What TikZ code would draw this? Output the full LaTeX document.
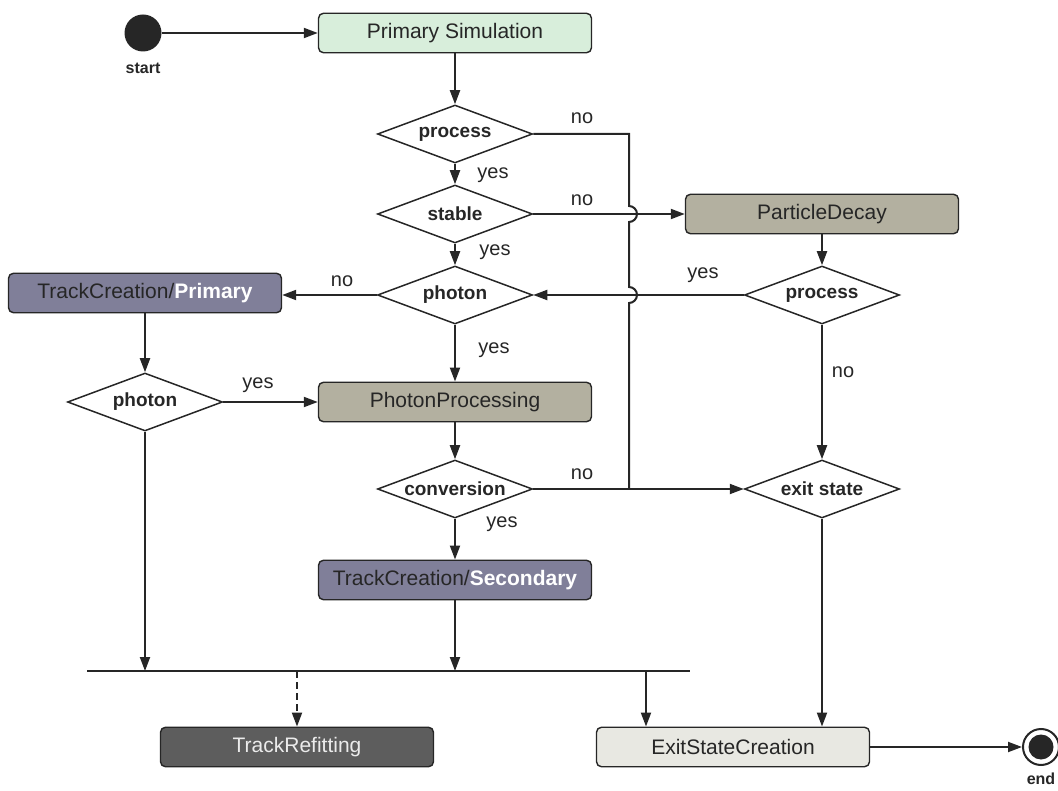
\documentclass[tikz,border=0pt]{standalone}
\usepackage{fontspec}
\setmainfont{Liberation Sans}
\usetikzlibrary{shapes.geometric,arrows.meta,calc}
\definecolor{simgreen}{HTML}{D8EEDB}
\definecolor{prockhaki}{HTML}{B3B0A0}
\definecolor{trackpurple}{HTML}{807F99}
\definecolor{refitgray}{HTML}{5D5D5D}
\definecolor{exitgray}{HTML}{E8E8E2}
\begin{document}
\begin{tikzpicture}[x=1pt,y=-1pt,
			activity/.style={draw=black!85, line width=1.4pt, rounded corners=5pt, minimum width=273pt, minimum height=39.5pt, inner sep=0pt, font=\fontsize{21}{24}\selectfont, text=black!85},
			decision/.style={diamond, draw=black!85, line width=1.5pt, aspect=2.7, inner sep=0pt, minimum width=155pt, minimum height=58pt, font=\bfseries\fontsize{19}{22}\selectfont, text=black!85},
			lbl/.style={font=\fontsize{20}{24}\selectfont, text=black!85},
			endlbl/.style={font=\bfseries\fontsize{16}{19}\selectfont, text=black!85},
			wire/.style={line width=2pt, draw=black!85},
			flow/.style={wire, -{Triangle[length=14pt,width=10pt]}}]
			\useasboundingbox (0,0) rectangle (1058,791);
			
			\node[circle, fill=black!85, minimum size=37pt, inner sep=0pt] (startpt) at (143,33) {};
			\node[endlbl] (startlbl) at (143,68) {start};
			\node[activity, fill=simgreen] (prim) at (455,33) {Primary Simulation};
			\node[decision] (proc) at (455,134) {process};
			\node[decision] (stab) at (455,214) {stable};
			\node[decision] (phot) at (455,295) {photon};
			\node[activity, fill=prockhaki] (decay) at (822,214) {ParticleDecay};
			\node[decision] (proc2) at (822,295) {process};
			\node[activity, fill=trackpurple] (tcprim) at (145,293) {TrackCreation/\textcolor{white}{\bfseries Primary}};
			\node[decision] (phot2) at (145,402) {photon};
			\node[activity, fill=prockhaki] (photproc) at (455,402) {PhotonProcessing};
			\node[decision] (conv) at (455,489) {conversion};
			\node[decision] (exitst) at (822,489) {exit state};
			\node[activity, fill=trackpurple] (tcsec) at (455,580) {TrackCreation/\textcolor{white}{\bfseries Secondary}};
			\node[activity, fill=refitgray, text=black!8] (refit) at (297,747) {TrackRefitting};
			\node[activity, fill=exitgray] (exitcr) at (733,747) {ExitStateCreation};
			\node[circle, draw=black!85, line width=2pt, minimum size=36pt, inner sep=0pt] (endpt) at (1041,747) {};
			\node[endlbl] (endtxt) at (1041,779) {end};
			\fill[black!85] (endpt) circle (12.5pt);
			
			% branch labels
			\node[lbl] (no1) at (582,118) {no};
			\node[lbl] (yes1) at (493,175) {yes};
			\node[lbl] (no2) at (582,200) {no};
			\node[lbl] (yes2) at (495,252) {yes};
			\node[lbl] (no3) at (342,281) {no};
			\node[lbl] (yes3) at (703,275) {yes};
			\node[lbl] (yes4) at (494,350) {yes};
			\node[lbl] (yes5) at (258,385) {yes};
			\node[lbl] (no4) at (843,372) {no};
			\node[lbl] (no5) at (582,474) {no};
			\node[lbl] (yes6) at (502,524) {yes};
			
			\coordinate (jn) at (629,489);
			\coordinate (barl) at (87,671);
			\coordinate (barr) at (690,671);
			\coordinate (barex) at (646,671);
			
			\draw[flow] (startpt) -- (prim);
			\draw[flow] (prim) -- (proc);
			\draw[flow] (proc) -- (stab);
			\draw[flow] (stab) -- (phot);
			\draw[flow] (stab) -- (decay);
			\draw[flow] (decay) -- (proc2);
			\draw[flow] (proc2) -- (phot);
			\draw[flow] (phot.west) -- (phot.west -| tcprim.east);
			\draw[flow] (tcprim) -- (phot2);
			\draw[flow] (phot2) -- (photproc);
			\draw[flow] (phot) -- (photproc);
			\draw[flow] (photproc) -- (conv);
			\draw[flow] (conv) -- (tcsec);
			\draw[flow] (conv) -- (exitst);
			\draw[flow] (proc2) -- (exitst);
			\draw[flow] (exitst.south) -- (exitst.south |- exitcr.north);
			\draw[flow] (exitcr) -- (endpt);
			\draw[wire] (proc.east) -- (proc.east -| jn)
				-- ($(jn |- stab.east)+(0,-8)$) arc[start angle=90, end angle=-90, radius=8pt]
				-- ($(jn |- phot.east)+(0,-8)$) arc[start angle=90, end angle=-90, radius=8pt]
				-- (jn);
			
			\draw[wire] (barl) -- (barr);
			\draw[flow] (phot2.south) -- (phot2.south |- barl);
			\draw[flow] (tcsec.south) -- (tcsec.south |- barl);
			\draw[flow] (barex) -- (barex |- exitcr.north);
			\draw[flow, dash pattern=on 7pt off 4pt] (refit.north |- barl) -- (refit.north);
		\end{tikzpicture}
\end{document}
